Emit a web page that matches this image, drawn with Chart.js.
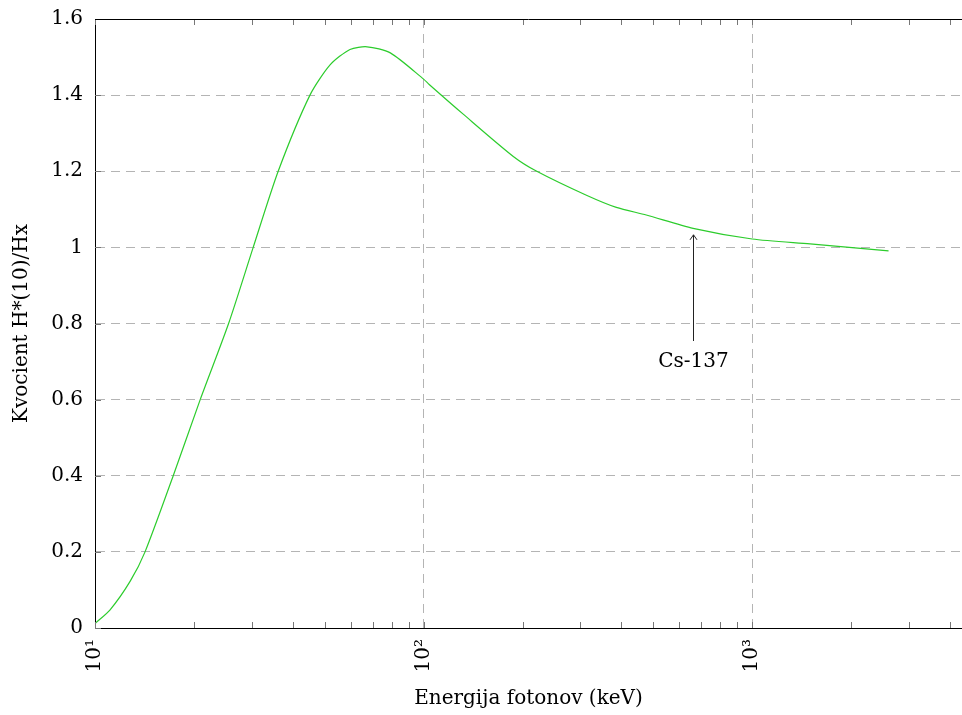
<!DOCTYPE html>
<html>
<head>
<meta charset="utf-8">
<script src="https://cdn.jsdelivr.net/npm/chart.js@4"></script>
<style>
  html, body { margin: 0; padding: 0; background: #fff; overflow: hidden; }
  #wrap { width: 962px; height: 715px; }
</style>
</head>
<body>
<div id="wrap"><canvas id="ratioChart"></canvas></div>
<script>
// energy (keV) and ratio H*(10)/Hx
var energy = [10, 11.1, 12.8, 14.2, 17.3, 20.9, 25.5, 30.3, 36.1, 45.1, 52, 59.7, 67.3, 79.2, 100, 104, 132, 187.5, 221, 313, 386, 476, 661, 1000, 1500, 2600];
var ratio  = [0.012, 0.047, 0.123, 0.2, 0.4, 0.6, 0.8, 1.0, 1.2, 1.4, 1.48, 1.52, 1.527, 1.511, 1.442, 1.428, 1.35, 1.239, 1.2, 1.137, 1.105, 1.085, 1.05, 1.022, 1.009, 0.991];
var xTickDecades = [10, 100, 1000];
var xTickLabels = ['10\u00b9', '10\u00b2', '10\u00b3'];
var yTicks = [0, 0.2, 0.4, 0.6, 0.8, 1, 1.2, 1.4, 1.6];
var note = { label: 'Cs-137', energy: 662, tip: 1.033, tail: 0.754, text: 0.70 };

var X_MIN = 10, X_MAX = 4350;
var FONT = "'DejaVu Serif', 'Liberation Serif', serif";

var points = [];
for (var i = 0; i < energy.length; i++) {
    points.push({ x: energy[i], y: ratio[i] });
}

function isMajor(v) {
    return xTickDecades.indexOf(v) >= 0;
}

var frameTicks = {
    id: 'frameTicks',
    afterDatasetsDraw: function (chart) {
        var ctx = chart.ctx;
        var a = chart.chartArea;
        var xs = chart.scales.x, ys = chart.scales.y;
        ctx.save();
        ctx.strokeStyle = '#777';
        ctx.lineWidth = 1;
        ctx.beginPath();
        xs.ticks.forEach(function (t) {
            var px = Math.round(xs.getPixelForValue(t.value)) + 0.5;
            ctx.moveTo(px, a.bottom); ctx.lineTo(px, a.bottom - 6);
            ctx.moveTo(px, a.top); ctx.lineTo(px, a.top + 6);
        });
        ys.ticks.forEach(function (t) {
            var py = Math.round(ys.getPixelForValue(t.value)) + 0.5;
            ctx.moveTo(a.left, py); ctx.lineTo(a.left + 6, py);
        });
        ctx.stroke();
        // top frame
        ctx.strokeStyle = '#000';
        ctx.beginPath();
        ctx.moveTo(a.left, a.top + 0.5); ctx.lineTo(a.right, a.top + 0.5);
        ctx.stroke();

        // Cs-137 arrow and label
        var ax = Math.round(xs.getPixelForValue(note.energy)) + 0.5;
        var tipY = ys.getPixelForValue(note.tip);
        var tailY = ys.getPixelForValue(note.tail);
        ctx.strokeStyle = '#222';
        ctx.lineWidth = 1;
        ctx.beginPath();
        ctx.moveTo(ax, tailY); ctx.lineTo(ax, tipY);
        ctx.moveTo(ax - 3.5, tipY + 5); ctx.lineTo(ax, tipY); ctx.lineTo(ax + 3.5, tipY + 5);
        ctx.stroke();
        ctx.fillStyle = '#000';
        ctx.font = '20px ' + FONT;
        ctx.textAlign = 'center';
        ctx.textBaseline = 'middle';
        ctx.fillText(note.label, ax, ys.getPixelForValue(note.text));
        ctx.restore();
    }
};

var ctx = document.getElementById('ratioChart').getContext('2d');
var ratioChart = new Chart(ctx, {
    type: 'line',
    data: {
        datasets: [{
            data: points,
            borderColor: '#2ccc2c',
            borderWidth: 1.2,
            pointRadius: 0,
            fill: false,
            tension: 0.25
        }]
    },
    options: {
        responsive: true,
        maintainAspectRatio: false,
        animation: false,
        layout: { padding: { top: 19, right: 0, left: 0, bottom: 0 } },
        plugins: { legend: { display: false }, tooltip: { enabled: false } },
        scales: {
            x: {
                type: 'logarithmic',
                min: X_MIN,
                max: X_MAX,
                afterBuildTicks: function (scale) {
                    var ticks = [];
                    xTickDecades.forEach(function (d) {
                        for (var m = 1; m <= 9; m++) {
                            if (d * m <= X_MAX) ticks.push({ value: d * m });
                        }
                    });
                    scale.ticks = ticks;
                },
                afterFit: function (scale) {
                    scale.height = 87;
                    scale.paddingLeft = 0;
                    scale.paddingRight = 0;
                },
                grid: {
                    drawTicks: false,
                    color: function (c) {
                        return c.tick && isMajor(c.tick.value) && c.tick.value !== X_MIN ? '#b4b4b4' : 'rgba(0,0,0,0)';
                    },
                    lineWidth: 1
                },
                border: { display: true, color: '#000', width: 1, dash: [9, 6] },
                ticks: {
                    autoSkip: false,
                    minRotation: 90,
                    maxRotation: 90,
                    padding: 11,
                    color: '#000',
                    font: { family: FONT, size: 20 },
                    callback: function (v) {
                        var k = xTickDecades.indexOf(v);
                        return k >= 0 ? xTickLabels[k] : '';
                    }
                },
                title: {
                    display: true,
                    text: 'Energija fotonov (keV)',
                    color: '#000',
                    font: { family: FONT, size: 20 },
                    padding: { top: 0, bottom: 4 }
                }
            },
            y: {
                min: 0,
                max: 1.6,
                afterBuildTicks: function (scale) {
                    scale.ticks = yTicks.map(function (v) { return { value: v }; });
                },
                afterFit: function (scale) {
                    scale.width = 95;
                    scale.paddingTop = 0;
                    scale.paddingBottom = 0;
                },
                grid: {
                    drawTicks: false,
                    color: function (c) {
                        return c.tick && c.tick.value > 0 && c.tick.value < 1.6 ? '#b4b4b4' : 'rgba(0,0,0,0)';
                    },
                    lineWidth: 1
                },
                border: { display: true, color: '#000', width: 1, dash: [9, 6] },
                ticks: {
                    padding: 12,
                    color: '#000',
                    font: { family: FONT, size: 20 },
                    callback: function (v) { return String(+v.toFixed(1)); }
                },
                title: {
                    display: true,
                    text: 'Kvocient H*(10)/Hx',
                    color: '#000',
                    font: { family: FONT, size: 20 },
                    padding: { top: 10, bottom: 10 }
                }
            }
        }
    },
    plugins: [frameTicks]
});
</script>
</body>
</html>
